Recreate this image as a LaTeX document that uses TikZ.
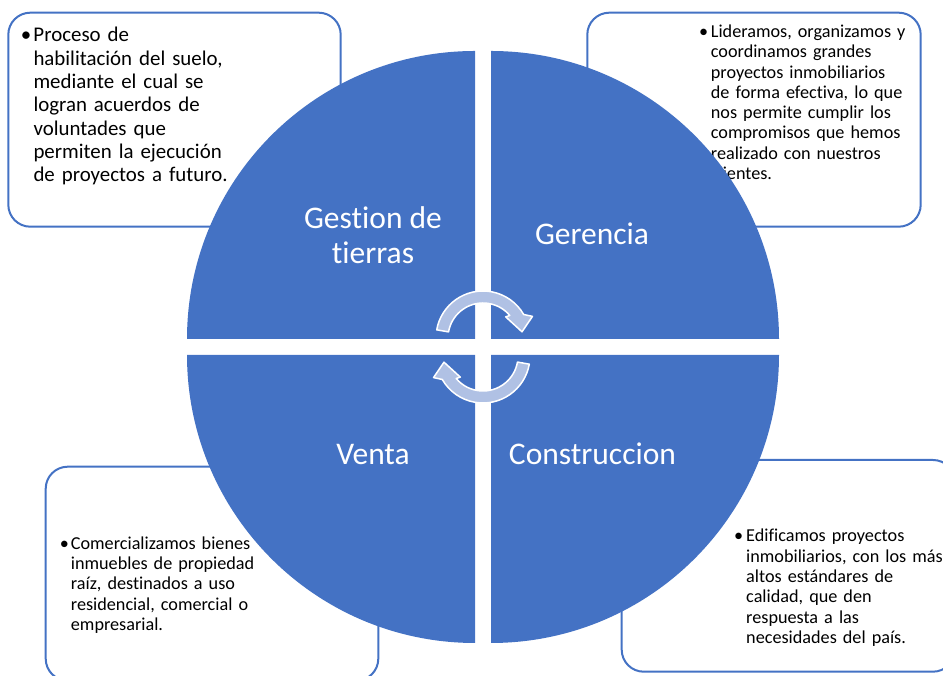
\documentclass[tikz,border=0pt]{standalone}
\usepackage{fontspec}
\setmainfont{Carlito}[Ligatures={NoCommon}]
\definecolor{mainblue}{HTML}{4472C4}
\definecolor{cycleblue}{HTML}{B0C1E4}
\newcommand{\bulletpar}[2]{\leftskip=#1\noindent\llap{\makebox[#1][l]{\textbullet}}\strut#2\par}
\newcommand{\cyclearrow}{(170:47) arc[start angle=170, end angle=30, radius=47] -- (23.6:54) -- (9:39.5) -- (43:31) -- (40:35) arc[start angle=40, end angle=170, radius=35] -- cycle}

\begin{document}
\begin{tikzpicture}[x=1pt, y=1pt, line join=round,
	quad/.style={fill=mainblue},
	infobox/.style={draw=mainblue, line width=2pt, fill=white, rounded corners=22pt},
	infotext/.style={anchor=north west, inner sep=0pt, text width=260pt, align=left},
	smalltext/.style={infotext, font=\fontsize{18.2}{20.3}\selectfont},
	lbl/.style={text=white, inner sep=0pt, font=\fontsize{31.5}{35}\selectfont},
	cyc/.style={fill=cycleblue, draw=white, line width=1.5pt}]
		\useasboundingbox (0,0) rectangle (943,676);
		\clip (0,0) rectangle (943,676);
		\draw[infobox] (8.3,449.3) rectangle (340.7,663.3);
		\draw[infobox] (587.3,449.3) rectangle (920.7,663.3);
		\draw[infobox] (45.7,-4.7) rectangle (378.3,209.3);
		\draw[infobox] (621.7,4.3) rectangle (955,216);
		\node[infotext, font=\fontsize{20.9}{23.3}\selectfont] (suelo) at (20.7,650.6) {\bulletpar{12.6pt}{Proceso de\\habilitación del suelo,\\mediante el cual se\\logran acuerdos de\\voluntades que\\permiten la ejecución\\de proyectos a futuro.}};
		\node[smalltext] (lideramos) at (699,652.9) {\bulletpar{11.7pt}{Lideramos, organizamos y\\coordinamos grandes\\proyectos inmobiliarios\\de forma efectiva, lo que\\nos permite cumplir los\\compromisos que hemos\\realizado con nuestros\\clientes.}};
		\node[smalltext] (comercializamos) at (59.7,141.2) {\bulletpar{11pt}{Comercializamos bienes\\inmuebles de propiedad\\raíz, destinados a uso\\residencial, comercial o\\empresarial.}};
		\node[smalltext] (edificamos) at (734,148.5) {\bulletpar{12pt}{Edificamos proyectos\\inmobiliarios, con los más\\altos estándares de\\calidad, que den\\respuesta a las\\necesidades del país.}};
		\foreach \cx/\cy/\a in {475/337/90, 491/337/0, 475/321/180, 491/321/270}
		{
			\fill[quad] (\cx,\cy) -- ++(\a:288) arc[start angle=\a, delta angle=90, radius=288] -- cycle;
		}
		\node[lbl, anchor=north, align=center] (gestion) at (373,472.2) {\strut Gestion de\\tierras};
		\node[lbl, anchor=base] (gerencia) at (592,431) {Gerencia};
		\node[lbl, anchor=base] (venta) at (373,211) {Venta};
		\node[lbl, anchor=base] (construccion) at (592.5,211) {Construccion};
		\begin{scope}[shift={(483,338)}]
			\draw[cyc] \cyclearrow;
		\end{scope}
		\begin{scope}[shift={(483,320)}, rotate=180]
			\draw[cyc] \cyclearrow;
		\end{scope}
\end{tikzpicture}
\end{document}
